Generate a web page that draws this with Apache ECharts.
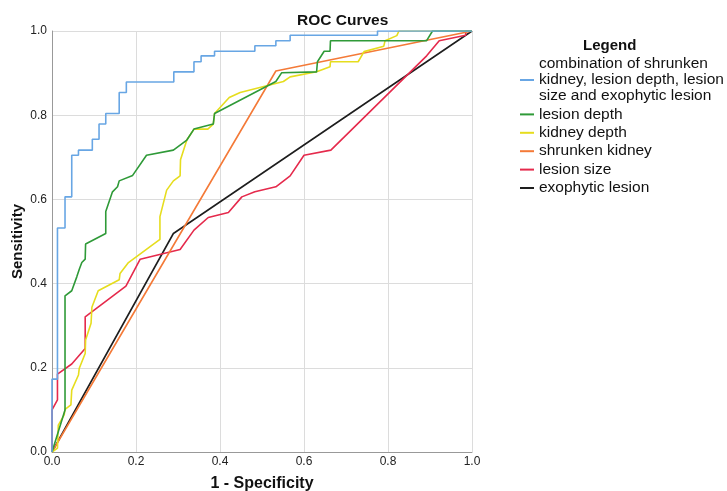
<!DOCTYPE html>
<html>
<head>
<meta charset="utf-8">
<script src="https://cdn.jsdelivr.net/npm/echarts@6/dist/echarts.min.js"></script>
<style>
html, body { margin: 0; padding: 0; background: #fff; }
#roc { width: 727px; height: 491px; }
</style>
</head>
<body>
<div id="roc"></div>
<script>
// 数据 (1 - specificity, sensitivity)
var combined = [[0,0],[0,0.173],[0.013,0.173],[0.013,0.532],[0.031,0.532],[0.031,0.606],[0.047,0.606],[0.047,0.705],[0.063,0.705],[0.063,0.717],[0.096,0.717],[0.096,0.743],[0.112,0.743],[0.112,0.779],[0.128,0.779],[0.128,0.804],[0.160,0.804],[0.160,0.854],[0.177,0.854],[0.177,0.879],[0.290,0.879],[0.290,0.903],[0.338,0.903],[0.338,0.927],[0.355,0.927],[0.355,0.941],[0.387,0.941],[0.387,0.952],[0.483,0.952],[0.483,0.965],[0.533,0.965],[0.533,0.977],[0.567,0.977],[0.567,0.990],[0.775,0.990],[0.775,1],[1,1]];
var lesionDepth = [[0,0],[0.031,0.100],[0.031,0.371],[0.047,0.383],[0.059,0.416],[0.065,0.434],[0.071,0.450],[0.079,0.458],[0.080,0.494],[0.128,0.519],[0.128,0.571],[0.144,0.618],[0.156,0.630],[0.160,0.644],[0.192,0.657],[0.225,0.705],[0.289,0.717],[0.321,0.741],[0.338,0.767],[0.384,0.779],[0.387,0.804],[0.533,0.880],[0.547,0.901],[0.630,0.903],[0.632,0.927],[0.648,0.952],[0.662,0.952],[0.663,0.977],[0.892,0.977],[0.906,1],[1,1]];
var kidneyDepth = [[0,0],[0.013,0.009],[0.015,0.064],[0.029,0.088],[0.031,0.101],[0.045,0.112],[0.047,0.147],[0.063,0.183],[0.065,0.199],[0.079,0.234],[0.080,0.266],[0.093,0.306],[0.095,0.344],[0.110,0.383],[0.160,0.409],[0.162,0.424],[0.182,0.450],[0.257,0.505],[0.257,0.559],[0.273,0.622],[0.289,0.644],[0.305,0.656],[0.306,0.694],[0.321,0.741],[0.338,0.767],[0.371,0.767],[0.384,0.779],[0.387,0.804],[0.422,0.842],[0.448,0.854],[0.523,0.873],[0.551,0.880],[0.567,0.891],[0.630,0.903],[0.662,0.915],[0.663,0.927],[0.729,0.927],[0.743,0.951],[0.790,0.964],[0.793,0.977],[0.821,0.989],[0.826,1],[1,1]];
var shrunkenKidney = [[0,0],[0.533,0.905],[1,1]];
var lesionSize = [[0,0],[0,0.100],[0.013,0.124],[0.013,0.185],[0.047,0.209],[0.079,0.246],[0.079,0.321],[0.176,0.394],[0.210,0.458],[0.305,0.481],[0.338,0.527],[0.372,0.557],[0.420,0.569],[0.452,0.606],[0.483,0.618],[0.533,0.630],[0.567,0.656],[0.600,0.705],[0.664,0.717],[0.892,0.941],[0.922,0.977],[0.985,0.990],[0.985,1],[1,1]];
var exophytic = [[0,0],[0.289,0.519],[1,1]];

var names = ['combination of shrunken\nkidney, lesion depth, lesion\nsize and exophytic lesion', 'lesion depth', 'kidney depth', 'shrunken kidney', 'lesion size', 'exophytic lesion'];
var colors = ['#68a6e4', '#2f9a38', '#e6dd1e', '#f47a38', '#e52a4c', '#1e1e1e'];
var tickLabels = ['0.0', '0.2', '0.4', '0.6', '0.8', '1.0'];

var font = 'Liberation Sans, Arial, sans-serif';

var myChart = echarts.init(document.getElementById('roc'));

// 每条曲线
var seriesData = [combined, lesionDepth, kidneyDepth, shrunkenKidney, lesionSize, exophytic];
var series = [];
for (var i = 0; i < seriesData.length; i++) {
	series.push({
		name: names[i],
		type: 'line',
		data: seriesData[i],
		symbol: 'none',
		animation: false,
		lineStyle: { color: colors[i], width: 1.6 },
		itemStyle: { color: colors[i] },
		z: 10 - i
	});
}

var option = {
	title: [{
		text: 'ROC Curves',
		left: 292,
		top: 8,
		textStyle: { fontFamily: font, fontSize: 15.5, fontWeight: 'bold', color: '#111' }
	}, {
		text: 'Legend',
		left: 578,
		top: 33,
		textStyle: { fontFamily: font, fontSize: 15, fontWeight: 'bold', color: '#111' }
	}],
	legend: {
		orient: 'vertical',
		left: 520,
		top: 56,
		padding: 0,
		icon: 'rect',
		itemWidth: 14,
		itemHeight: 2,
		itemGap: 2.4,
		data: names,
		textStyle: { fontFamily: font, fontSize: 15.5, lineHeight: 16, color: '#111' }
	},
	grid: { left: 52, right: 255, top: 31, bottom: 39, containLabel: false, outerBoundsMode: 'none' },
	xAxis: {
		type: 'value',
		min: 0,
		max: 1,
		interval: 0.2,
		name: '1 - Specificity',
		nameLocation: 'middle',
		nameGap: 24,
		nameTextStyle: { fontFamily: font, fontSize: 16, fontWeight: 'bold', color: '#111' },
		axisLine: { show: true, lineStyle: { color: '#999' } },
		axisTick: { show: false },
		axisLabel: {
			fontFamily: font, fontSize: 12, color: '#222', margin: 4,
			formatter: function (v) { return tickLabels[Math.round(v * 5)]; }
		},
		splitLine: { show: true, lineStyle: { color: '#dcdcdc' } }
	},
	yAxis: {
		type: 'value',
		min: 0,
		max: 1,
		interval: 0.2,
		name: 'Sensitivity',
		nameLocation: 'middle',
		nameGap: 27,
		nameMoveOverlap: false,
		nameTextStyle: { fontFamily: font, fontSize: 15, fontWeight: 'bold', color: '#111' },
		axisLine: { show: true, lineStyle: { color: '#999' } },
		axisTick: { show: false },
		axisLabel: {
			fontFamily: font, fontSize: 12, color: '#222', margin: 5,
			formatter: function (v) { return tickLabels[Math.round(v * 5)]; }
		},
		splitLine: { show: true, lineStyle: { color: '#dcdcdc' } }
	},
	series: series
};

myChart.setOption(option);
</script>
</body>
</html>
